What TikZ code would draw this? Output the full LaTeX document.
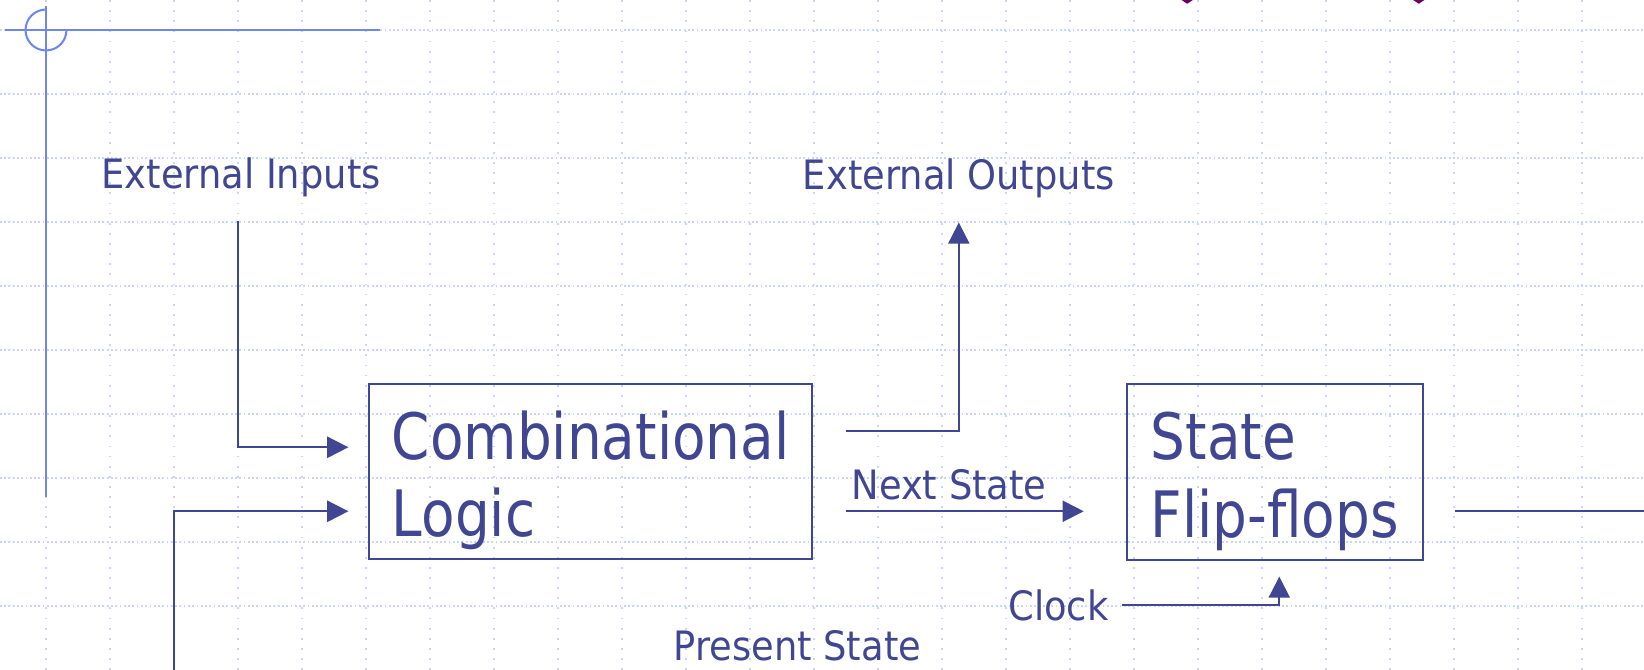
\documentclass[tikz,border=0pt]{standalone}
\usepackage{fontspec}
\setmainfont{DejaVu Sans}[FakeStretch=0.91]
\newfontfamily\boxfont{DejaVu Sans}[FakeStretch=0.857]
\usepackage{tikz}
\usetikzlibrary{arrows.meta}
\definecolor{ink}{RGB}{64,70,145}
\definecolor{crossblue}{RGB}{110,134,238}
\definecolor{gridblue}{RGB}{202,214,248}
\definecolor{bulletpurple}{RGB}{102,0,102}
\tikzstyle{lbl}=[anchor=base west,inner sep=0pt,text=ink,font=\fontsize{18pt}{21pt}\selectfont]
\tikzstyle{block}=[draw=ink,line width=0.9pt,text=ink,align=left,inner sep=0pt,minimum height=2.74cm,font=\boxfont\fontsize{28.45pt}{34.4pt}\selectfont]
\tikzstyle{flow}=[draw=ink,line width=0.9pt,-{Triangle[length=0.33cm,width=0.33cm]}]
\tikzstyle{wire}=[draw=ink,line width=0.9pt]
\tikzstyle{gridh}=[gridblue,line width=0.67pt,dash pattern=on 0.8pt off 1.1pt]
\tikzstyle{gridv}=[gridblue,line width=0.67pt,dash pattern=on 0.8pt off 3.7pt]
\tikzstyle{cross}=[crossblue,line width=0.9pt]
\tikzstyle{bullet}=[fill=bulletpurple]
\newcommand{\topstrut}{\rule{0pt}{1.04cm}}

\begin{document}
\begin{tikzpicture}
	\useasboundingbox (-0.71875,0) rectangle (24.96875,10.46875);
	% grid
	\foreach \x in {0,...,24}
		\draw[gridv] (\x,0) -- (\x,10.47);
	\foreach \y in {1,...,10}
		\draw[gridh] (-0.72,\y) -- (24.97,\y);

	% corner mark
	\draw[cross] (-0.64,10) -- (5.22,10);
	\draw[cross] (0,10.375) -- (0,2.7);
	\draw[cross] (0,10.32) arc[start angle=90,end angle=360,radius=0.32];
	\foreach \x in {17.83,21.45}
		\fill[bullet] (\x-0.09,10.47) -- (\x+0.09,10.47) -- (\x,10.41) -- cycle;

	\node[block,minimum width=6.92cm] (combo) at (8.51,3.10) {\topstrut Combinational\\Logic};
	\node[block,minimum width=4.62cm] (ffs) at (19.2,3.095) {\topstrut State\\Flip-flops};

	\node[lbl] (extin) at (0.86,7.527) {External Inputs};
	\node[lbl] (extout) at (11.82,7.51) {External Outputs};
	\node[lbl] (next) at (12.58,2.667) {Next State};
	\node[lbl] (clock) at (15.03,0.78) {Clock};
	\node[lbl] (present) at (9.8,0.156) {Present State};
	\coordinate (fbk) at (2,0);
	\coordinate (outR) at (24.97,2.48);

	\draw[flow,shorten <=0.38cm,shorten >=0.31cm] (extin.south -| 3,0) |- (combo.west |- 0,3.48);
	\draw[flow,shorten >=0.31cm] (fbk) |- (combo.west |- 0,2.48);
	\draw[flow,shorten <=0.52cm,shorten >=0.38cm] (combo.east |- 0,3.73) -| (extout.south);
	\draw[flow,shorten <=0.52cm,shorten >=0.66cm] (combo.east |- 0,2.48) -- (ffs.west |- 0,2.48);
	\draw[flow,shorten <=0.2cm,shorten >=0.25cm] (clock.east) -| (ffs.south -| 19.27,0);
	\draw[wire,shorten <=0.49cm] (ffs.east |- 0,2.48) -- (outR);

\end{tikzpicture}
\end{document}
